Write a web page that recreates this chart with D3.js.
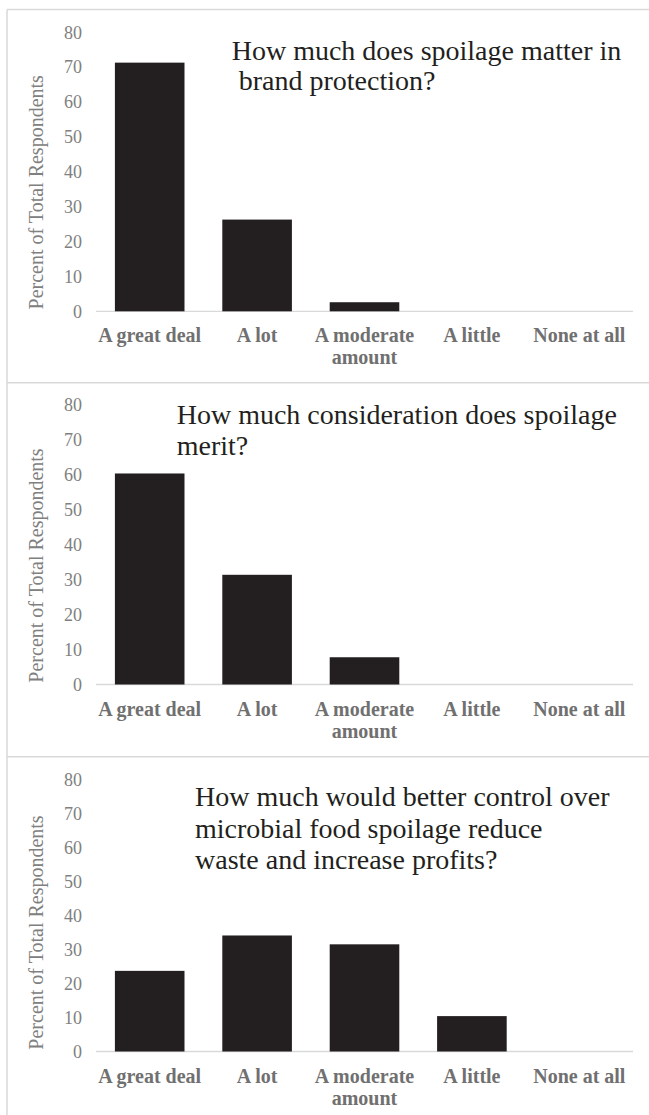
<!DOCTYPE html>
<html>
<head>
<meta charset="utf-8">
<script src="https://cdn.jsdelivr.net/npm/d3@7"></script>
<style>
  body { margin: 0; background: #fff; }
  svg { display: block; }
</style>
</head>
<body>
<div id="chart"></div>
<script>
// answers on the x axis (same for all three questions)
const categories = ['A great deal', 'A lot', 'A moderate amount', 'A little', 'None at all']
const tickValues = [0, 10, 20, 30, 40, 50, 60, 70, 80]

// percent of total respondents, one list per question
const brandProtection = [71.3, 26.3, 2.6, 0, 0]
const considerationMerit = [60.4, 31.4, 7.8, 0, 0]
const reduceWaste = [23.7, 34.1, 31.5, 10.4, 0]

const titleBrand = ['How much does spoilage matter in', '\u00a0brand protection?']
const titleMerit = ['How much consideration does spoilage', 'merit?']
const titleWaste = ['How much would better control over', 'microbial food spoilage reduce', 'waste and increase profits?']

const width = 649
const height = 1115

const svg = d3.select('#chart')
  .append('svg')
  .attr('width', width)
  .attr('height', height)

const serif = '"Liberation Serif", "Times New Roman", serif'

// frame lines
const frameColor = '#d9d9d9'
svg.append('line').attr('x1', 7).attr('x2', 7).attr('y1', 9.5).attr('y2', height)
  .attr('stroke', frameColor).attr('stroke-width', 1.5)

const panels = [
  { values: brandProtection, title: titleBrand, top: 9.5, y0: 311.3, y80: 32.3, tx: 231.7, ty: 60, lh: 30 },
  { values: considerationMerit, title: titleMerit, top: 382.7, y0: 684.5, y80: 405, tx: 176.7, ty: 424.3, lh: 31 },
  { values: reduceWaste, title: titleWaste, top: 756.7, y0: 1051.5, y80: 779.3, tx: 195, ty: 806, lh: 31.6 }
]

const x = d3.scaleBand()
  .domain(categories)
  .range([96, 633])
  .paddingInner(0.352)
  .paddingOuter(0.176)

panels.forEach(function (p) {
  svg.append('line').attr('x1', 7).attr('x2', width).attr('y1', p.top).attr('y2', p.top)
    .attr('stroke', frameColor).attr('stroke-width', 1.5)

  const y = d3.scaleLinear().domain([0, 80]).range([p.y0, p.y80])

  const g = svg.append('g')

  // y axis: labels only
  const yAxis = g.append('g')
    .attr('transform', 'translate(82,0)')
    .call(d3.axisLeft(y).tickValues(tickValues).tickSize(0).tickPadding(0))
  yAxis.select('.domain').remove()
  yAxis.selectAll('text')
    .attr('fill', '#808080')
    .style('font-family', serif)
    .style('font-size', '18px')

  // baseline
  g.append('line')
    .attr('x1', 96).attr('x2', 633)
    .attr('y1', y(0)).attr('y2', y(0))
    .attr('stroke', '#d9d9d9').attr('stroke-width', 1.3)

  g.selectAll('rect.bar')
    .data(p.values.map((v, i) => ({ cat: categories[i], v: v })).filter(d => d.v > 0))
    .enter()
    .append('rect')
    .attr('class', 'bar')
    .attr('x', d => x(d.cat))
    .attr('width', x.bandwidth())
    .attr('y', d => y(d.v))
    .attr('height', d => y(0) - y(d.v))
    .attr('fill', '#231f20')

  // category labels (wrap "A moderate amount")
  categories.forEach(function (c) {
    const lines = c === 'A moderate amount' ? ['A moderate', 'amount'] : [c]
    const t = g.append('text')
      .attr('x', x(c) + x.bandwidth() / 2)
      .attr('y', y(0) + 31)
      .attr('text-anchor', 'middle')
      .attr('fill', '#707070')
      .style('font-family', serif)
      .style('font-weight', 'bold')
      .style('font-size', '20px')
    lines.forEach(function (l, i) {
      t.append('tspan').attr('x', x(c) + x.bandwidth() / 2).attr('dy', i === 0 ? 0 : 22).text(l)
    })
  })

  // y axis title
  g.append('text')
    .attr('transform', 'translate(43,' + (p.y0 - 119) + ') rotate(-90)')
    .attr('text-anchor', 'middle')
    .attr('fill', '#808080')
    .style('font-family', serif)
    .style('font-size', '20px')
    .text('Percent of Total Respondents')

  // question title
  const title = g.append('text')
    .attr('x', p.tx)
    .attr('y', p.ty)
    .attr('fill', '#231f20')
    .style('font-family', serif)
    .style('font-size', '28px')
  p.title.forEach(function (l, i) {
    title.append('tspan').attr('x', p.tx).attr('dy', i === 0 ? 0 : p.lh).text(l)
  })
})
</script>
</body>
</html>
